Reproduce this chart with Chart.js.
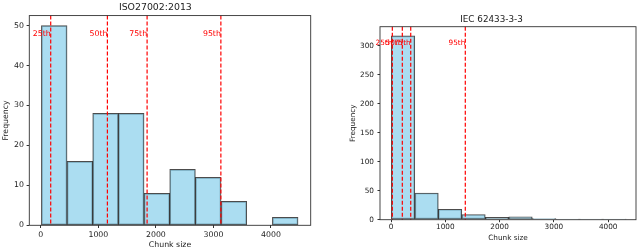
<!DOCTYPE html>
<html>
<head>
<meta charset="utf-8">
<script src="https://cdn.jsdelivr.net/npm/chart.js@4.4.1/dist/chart.umd.min.js"></script>
<style>
  body { margin: 0; background: #fff; }
  .wrap { position: absolute; top: 0; width: 320px; height: 252px; }
</style>
</head>
<body>
<div class="wrap" style="left:0"><canvas id="iso" width="320" height="252"></canvas></div>
<div class="wrap" style="left:320px"><canvas id="iec" width="320" height="252"></canvas></div>
<script>
// histogram bins
const isoEdges = [10, 456, 902, 1348, 1794, 2240, 2686, 3132, 3578, 4024, 4470];
const isoCounts = [50, 16, 28, 28, 8, 14, 12, 6, 0, 2];
const isoPercentiles = [172, 1157, 1847, 3129];

const iecEdges = [5, 438, 871, 1303, 1736, 2169, 2601, 3034, 3467, 3899, 4332];
const iecCounts = [317, 46, 18, 9, 4, 5, 2, 1, 1, 1];
const iecPercentiles = [24, 208, 363, 1368];

const percentileLabels = ['25th', '50th', '75th', '95th'];
const xTicks = [0, 1000, 2000, 3000, 4000];
const isoYTicks = [0, 10, 20, 30, 40, 50];
const iecYTicks = [0, 50, 100, 150, 200, 250, 300];

const FONT = 'DejaVu Sans';
const TEXT = '#222';

const marks = {
  id: 'marks',
  afterDatasetsDraw(chart, args, opts) {
    const { ctx, chartArea: a, scales: { x, y } } = chart;
    ctx.save();
    ctx.strokeStyle = 'red';
    ctx.lineWidth = 1.2;
    ctx.setLineDash([4, 2]);
    opts.values.forEach(v => {
      const px = x.getPixelForValue(v);
      ctx.beginPath();
      ctx.moveTo(px, a.top);
      ctx.lineTo(px, a.bottom);
      ctx.stroke();
    });
    ctx.setLineDash([]);
    ctx.strokeStyle = '#333';
    ctx.lineWidth = 0.9;
    ctx.strokeRect(a.left, a.top, a.right - a.left, a.bottom - a.top);
    ctx.fillStyle = 'red';
    ctx.font = opts.fontSize + 'px "' + FONT + '"';
    ctx.textAlign = 'right';
    ctx.textBaseline = 'alphabetic';
    const ty = y.getPixelForValue(opts.labelY);
    opts.values.forEach((v, i) => ctx.fillText(percentileLabels[i], x.getPixelForValue(v), ty));
    ctx.restore();
  }
};

function histogram(id, c) {
  const top = Math.max(...c.counts);
  return new Chart(document.getElementById(id), {
    type: 'bar',
    data: {
      datasets: [{
        data: c.counts.map((n, i) => ({ x: (c.edges[i] + c.edges[i + 1]) / 2, y: n })),
        backgroundColor: 'rgba(135, 206, 235, 0.7)',
        borderColor: 'rgba(0, 0, 0, 0.7)',
        borderWidth: 1,
        borderSkipped: false,
        barPercentage: 1,
        categoryPercentage: 1
      }]
    },
    plugins: [marks],
    options: {
      responsive: false,
      animation: false,
      layout: { padding: c.pad },
      plugins: {
        legend: { display: false },
        tooltip: { enabled: false },
        title: {
          display: true,
          text: c.title,
          color: TEXT,
          font: { family: FONT, size: c.titleSize, weight: 'normal' },
          padding: c.titlePad
        },
        marks: { values: c.percentiles, labelY: top * 0.95, fontSize: c.font }
      },
      scales: {
        x: {
          type: 'linear',
          min: c.xMin,
          max: c.xMax,
          offset: false,
          grid: { display: true, drawOnChartArea: false, offset: false, tickLength: c.tick, color: '#333' },
          border: { display: false },
          ticks: { color: TEXT, font: { family: FONT, size: c.font }, padding: c.xTickPad, maxRotation: 0, callback: v => String(v) },
          title: { display: true, text: 'Chunk size', color: TEXT, font: { family: FONT, size: c.font }, padding: { top: 0, bottom: c.xTitlePad } },
          afterBuildTicks: s => { s.ticks = xTicks.map(v => ({ value: v })); },
          afterFit: s => { s.height = c.xHeight; }
        },
        y: {
          min: 0,
          max: top * 1.05,
          grid: { display: true, drawOnChartArea: false, tickLength: c.tick, color: '#333' },
          border: { display: false },
          ticks: { color: TEXT, font: { family: FONT, size: c.font }, padding: c.yTickPad, callback: v => String(v) },
          title: { display: true, text: 'Frequency', color: TEXT, font: { family: FONT, size: c.font }, padding: { top: c.yTitlePad, bottom: 0 } },
          afterBuildTicks: s => { s.ticks = c.yTicks.map(v => ({ value: v })); },
          afterFit: s => { s.width = c.yWidth; }
        }
      }
    }
  });
}

histogram('iso', {
  title: 'ISO27002:2013',
  edges: isoEdges, counts: isoCounts, percentiles: isoPercentiles, yTicks: isoYTicks,
  xMin: -200, xMax: 4690,
  pad: { left: 0, right: 9.3, top: 0, bottom: 0 },
  titleSize: 9.4, titlePad: { top: 2, bottom: 2.3 },
  font: 7.8, tick: 2.7, xTickPad: 2.3, yTickPad: 2.6,
  xTitlePad: 2.3, yTitlePad: 1.3,
  xHeight: 26.7, yWidth: 29.3
});

histogram('iec', {
  title: 'IEC 62433-3-3',
  edges: iecEdges, counts: iecCounts, percentiles: iecPercentiles, yTicks: iecYTicks,
  xMin: -203, xMax: 4512,
  pad: { left: 27, right: 4, top: 12.7, bottom: 6 },
  titleSize: 8.8, titlePad: { top: 1.3, bottom: 2.14 },
  font: 7.3, tick: 2.5, xTickPad: 0.7, yTickPad: 3.5,
  xTitlePad: 3.6, yTitlePad: 1.6,
  xHeight: 26.3, yWidth: 33
});
</script>
</body>
</html>
